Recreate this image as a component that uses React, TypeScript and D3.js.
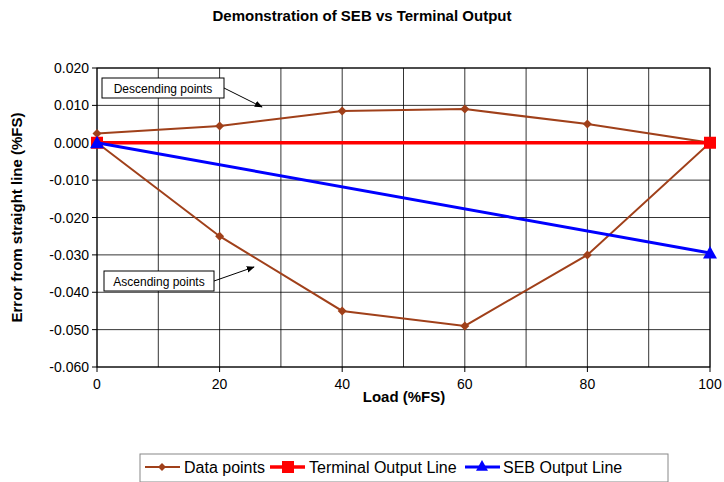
import * as d3 from 'd3'

const loads = [0, 20, 40, 60, 80, 100]
const ascending = [0, -0.025, -0.045, -0.049, -0.03, 0]
const descending = [0.0025, 0.0045, 0.0085, 0.009, 0.005, 0]
const terminal = [0, 0]
const seb = [0, -0.0295]
const endLoads = [0, 100]
const xTicks = [0, 20, 40, 60, 80, 100]
const yTicks = [0.02, 0.01, 0, -0.01, -0.02, -0.03, -0.04, -0.05, -0.06]

const BROWN = '#a0401a'
const font = 'Arial, Liberation Sans, sans-serif'

export default function App() {
  const W = 724, H = 482
  const x = d3.scaleLinear().domain([0, 100]).range([97, 710])
  const y = d3.scaleLinear().domain([-0.06, 0.02]).range([367, 68])
  // data loop: ascending out, descending back
  const loop: [number, number][] = [
    ...loads.map((l, i) => [l, ascending[i]] as [number, number]),
    ...loads.slice(0, 5).reverse().map(l => [l, descending[loads.indexOf(l)]] as [number, number]),
  ]
  const line = d3.line<[number, number]>().x(d => x(d[0])).y(d => y(d[1]))
  const diamond = (cx: number, cy: number, s: number) => `M${cx},${cy - s}L${cx + s},${cy}L${cx},${cy + s}L${cx - s},${cy}Z`
  const tri = (cx: number, cy: number, s: number) => `M${cx},${cy - s}L${cx + s},${cy + s * 0.8}L${cx - s},${cy + s * 0.8}Z`
  const gridX = d3.range(0, 101, 10)
  return (
    <svg width={W} height={H} style={{ position: 'absolute', left: 0, top: 0, background: '#fff' }} fontFamily={font}>
      <defs>
        <marker id="arr" viewBox="0 0 10 10" refX="9" refY="5" markerWidth="8" markerHeight="8" orient="auto">
          <path d="M0,1L10,5L0,9Z" fill="#000" />
        </marker>
      </defs>
      <text x={362} y={21} textAnchor="middle" fontWeight="bold" fontSize={15}>Demonstration of SEB vs Terminal Output</text>
      <rect x={x(0)} y={y(0.02)} width={x(100) - x(0)} height={y(-0.06) - y(0.02)} fill="#fff" stroke="#000" />
      {gridX.map(g => <line key={g} x1={x(g)} x2={x(g)} y1={y(0.02)} y2={y(-0.06)} stroke="#000" strokeWidth={0.8} />)}
      {yTicks.map(t => <line key={t} x1={x(0)} x2={x(100)} y1={y(t)} y2={y(t)} stroke="#000" strokeWidth={0.8} />)}
      {yTicks.map(t => (
        <g key={'l' + t}>
          <line x1={x(0) - 5} x2={x(0)} y1={y(t)} y2={y(t)} stroke="#000" />
          <text x={x(0) - 8} y={y(t) + 5} textAnchor="end" fontSize={14}>{t.toFixed(3)}</text>
        </g>
      ))}
      {xTicks.map(t => (
        <g key={'x' + t}>
          <line x1={x(t)} x2={x(t)} y1={y(-0.06)} y2={y(-0.06) + 5} stroke="#000" />
          <text x={x(t)} y={y(-0.06) + 22} textAnchor="middle" fontSize={14}>{t}</text>
        </g>
      ))}
      <text x={404} y={402} textAnchor="middle" fontWeight="bold" fontSize={15}>Load (%FS)</text>
      <text transform={`translate(22,${(y(0.02) + y(-0.06)) / 2}) rotate(-90)`} textAnchor="middle" fontWeight="bold" fontSize={15}>Error from straight line (%FS)</text>

      <path d={line(loop) ?? ''} fill="none" stroke={BROWN} strokeWidth={2} />
      {loop.map((d, i) => <path key={i} d={diamond(x(d[0]), y(d[1]), 4.5)} fill={BROWN} />)}
      <path d={line(endLoads.map((l, i) => [l, terminal[i]] as [number, number])) ?? ''} stroke="#ff0000" strokeWidth={3.5} fill="none" />
      {endLoads.map((l, i) => <rect key={l} x={x(l) - 6} y={y(terminal[i]) - 6} width={12} height={12} fill="#ff0000" />)}
      <path d={line(endLoads.map((l, i) => [l, seb[i]] as [number, number])) ?? ''} stroke="#0000ff" strokeWidth={3} fill="none" />
      {endLoads.map((l, i) => <path key={l} d={tri(x(l), y(seb[i]), 7)} fill="#0000ff" />)}

      <rect x={102} y={78} width={122} height={20} fill="#fff" stroke="#000" />
      <text x={163} y={93} textAnchor="middle" fontSize={12}>Descending points</text>
      <line x1={224} x2={262} y1={88} y2={107} stroke="#000" markerEnd="url(#arr)" />
      <rect x={104} y={271} width={110} height={20} fill="#fff" stroke="#000" />
      <text x={159} y={286} textAnchor="middle" fontSize={12}>Ascending points</text>
      <line x1={214} x2={254} y1={281} y2={267} stroke="#000" markerEnd="url(#arr)" />

      <rect x={140} y={454} width={528} height={28} fill="#fff" stroke="#888" />
      <line x1={145} x2={180} y1={467} y2={467} stroke={BROWN} strokeWidth={2} />
      <path d={diamond(162, 467, 4)} fill={BROWN} />
      <text x={184} y={473} fontSize={16}>Data points</text>
      <line x1={270} x2={305} y1={467} y2={467} stroke="#ff0000" strokeWidth={3.5} />
      <rect x={282} y={461} width={12} height={12} fill="#ff0000" />
      <text x={309} y={473} fontSize={16}>Terminal Output Line</text>
      <line x1={465} x2={500} y1={467} y2={467} stroke="#0000ff" strokeWidth={3} />
      <path d={tri(482, 466, 6)} fill="#0000ff" />
      <text x={503} y={473} fontSize={16}>SEB Output Line</text>
    </svg>
  )
}
